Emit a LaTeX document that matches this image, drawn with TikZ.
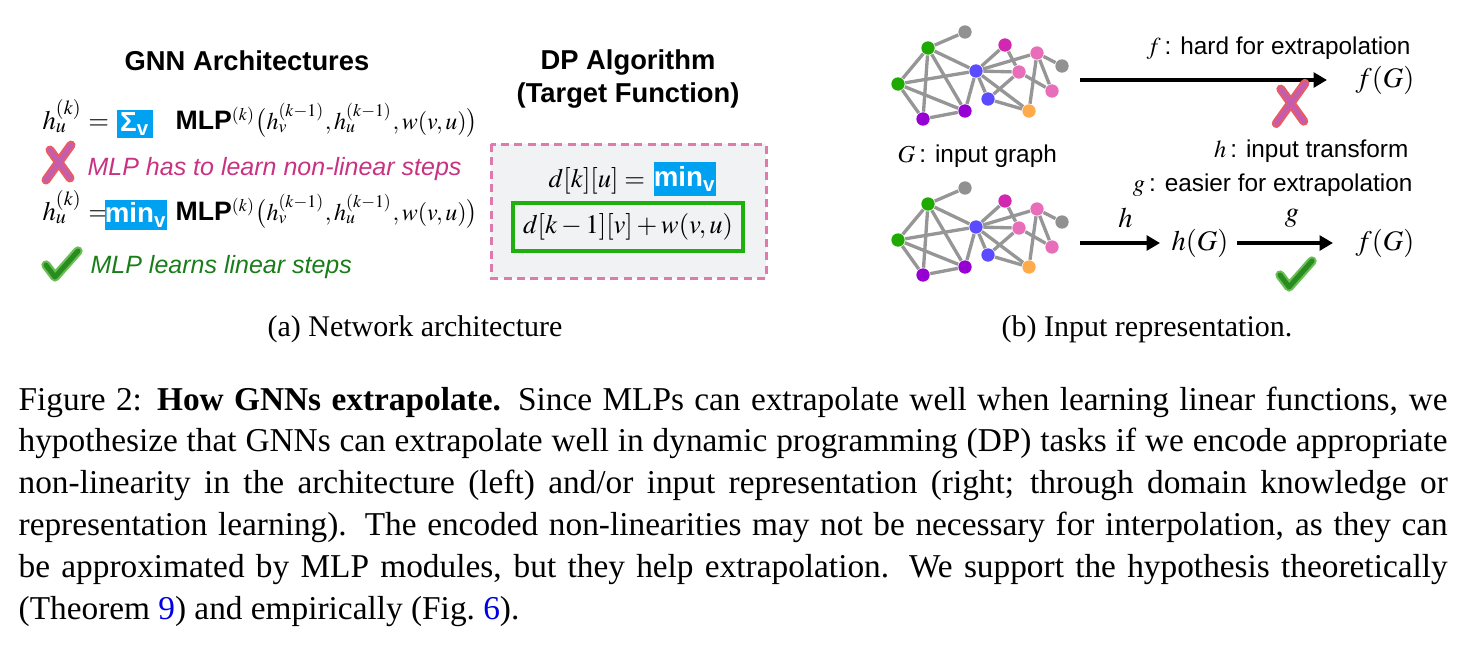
\documentclass[tikz,border=0pt]{standalone}
\usepackage{mathptmx}
\usepackage[no-math]{fontspec}
\setmainfont{Liberation Serif}
\setsansfont{Liberation Sans}
\usetikzlibrary{arrows.meta}

\definecolor{selblue}{RGB}{0,161,241}
\definecolor{badpink}{RGB}{200,50,130}
\definecolor{goodgreen}{RGB}{25,125,25}
\definecolor{dashpink}{RGB}{222,122,174}
\definecolor{boxgray}{RGB}{241,242,244}
\definecolor{boxgreen}{RGB}{31,175,15}
\definecolor{edgegray}{RGB}{150,150,150}
\definecolor{ngreen}{RGB}{30,170,0}
\definecolor{npurple}{RGB}{150,0,210}
\definecolor{nblue}{RGB}{90,75,255}
\definecolor{nmagenta}{RGB}{210,40,175}
\definecolor{npink}{RGB}{232,110,185}
\definecolor{norange}{RGB}{255,170,75}
\definecolor{ngray}{RGB}{145,145,145}
\definecolor{crossred}{RGB}{232,92,100}
\definecolor{crossmid}{RGB}{196,92,176}
\definecolor{tickout}{RGB}{105,190,85}
\definecolor{tickin}{RGB}{40,140,30}
\definecolor{linkblue}{RGB}{0,0,230}

\newcommand{\mlpname}{\textsf{\bfseries\fontsize{8}{9}\selectfont MLP}}

\tikzset{
  crossmk/.pic={
    \draw[line width=2.7pt, line cap=round, crossred] (13,-18) -- (-12,17) (-8,-13) -- (12,15);
    \draw[line width=1.4pt, line cap=round, crossmid] (13,-18) -- (-12,17) (-8,-13) -- (12,15);
  },
  tickmk/.pic={
    \draw[line width=2.8pt, line cap=round, line join=round, tickout] (-12,0) -- (-3,12) -- (20,-14);
    \draw[line width=1.5pt, line cap=round, line join=round, tickin] (-12,0) -- (-3,12) -- (20,-14);
  }
}

\begin{document}
\begin{tikzpicture}[x=0.3pt, y=-0.3pt,
    every node/.style={inner sep=0pt},
    head/.style={font=\fontsize{8.2}{9.9}\selectfont\sffamily\bfseries, align=center},
    eqn/.style={font=\fontsize{8}{9.6}\selectfont},
    mlpeq/.style={font=\fontsize{7.2}{8.8}\selectfont},
    note/.style={font=\fontsize{7.5}{9}\selectfont\sffamily\itshape},
    rsans/.style={font=\fontsize{7.3}{8.8}\selectfont\sffamily},
    rmath/.style={font=\fontsize{8.5}{10}\selectfont},
    selbox/.style={fill=selblue, text=white, font=\fontsize{8.3}{9.6}\selectfont\sffamily\bfseries},
    gnode/.style={circle, minimum size=4pt},
    gedge/.style={draw=edgegray, line width=1pt},
    bigarrow/.style={line width=1.3pt, -{Triangle[length=4pt,width=4.4pt]}},
    subcap/.style={font=\fontsize{9}{11}\selectfont}]
  \useasboundingbox (0,0) rectangle (1464,646);

  % (a) GNN architectures
  \node[head] (gnnhead) at (247,61) {GNN Architectures};
  \node[eqn, anchor=base west] (eqa) at (42,129) {$h_u^{(k)} =$};
  \node[selbox, minimum width=10.8pt, minimum height=8.4pt] (suma) at (135,124) {Σ\textsubscript{v}};
  \node[mlpeq, anchor=base west] (mlpa) at (175,129) {\mlpname$^{(k)}\big(h_v^{(k-1)}, h_u^{(k-1)}, w(v,u)\big)$};
  \pic at (58,163) {crossmk};
  \node[note, text=badpink, anchor=base west] (bada) at (87,175) {MLP has to learn non-linear steps};
  \node[eqn, anchor=base west] (eqb) at (42,220) {$h_u^{(k)} =$};
  \node[selbox, minimum width=18.6pt, minimum height=9pt] (minb) at (136,215) {min\textsubscript{v}};
  \node[mlpeq, anchor=base west] (mlpb) at (175,220) {\mlpname$^{(k)}\big(h_v^{(k-1)}, h_u^{(k-1)}, w(v,u)\big)$};
  \pic at (58,265) {tickmk};
  \node[note, text=goodgreen, anchor=base west] (goodb) at (90,273) {MLP learns linear steps};
  \node[subcap] (capa) at (415,329) {(a) Network architecture};

  % DP algorithm
  \node[head] (dphead) at (628,79) {DP Algorithm\\(Target Function)};
  \draw[dashpink, fill=boxgray, line width=0.9pt, dash pattern=on 2.4pt off 1.6pt] (491,144) rectangle (766,278);
  \node[eqn, anchor=base west] (dku) at (548,187) {$d[k][u] =$};
  \node[selbox, minimum width=18.3pt, minimum height=10pt] (mindp) at (685,179) {min\textsubscript{v}};
  \node[eqn, draw=boxgreen, line width=1.2pt, minimum width=69pt, minimum height=14.4pt] (step) at (628,227) {$d[k-1][v] + w(v,u)$};

  % (b) input representation
  \foreach \g/\dy in {ga/0, gb/156} {
    \foreach \n/\px/\py/\c in {gr1/965/32/ngray, gn1/928/48/ngreen, gn2/898/84/ngreen,
        pu1/923/119/npurple, pu2/965/111/npurple, bl1/976/71/nblue, mg/1005/45/nmagenta,
        pk1/1019/72/npink, pk2/1037/53/npink, gr2/1062/66/ngray, pk3/1052/91/npink,
        bl2/988/99/nblue, or/1029/111/norange}
      \node[gnode, fill=\c] (\g\n) at (\px,\py+\dy) {};
    \foreach \a/\b in {gr1/gn1, gn1/gn2, gn1/pu1, gn1/pu2, gn1/bl1, gn2/bl1, gn2/pu1, gn2/pu2,
        pu1/pu2, pu2/bl1, bl1/mg, bl1/pk1, bl1/pk2, bl1/bl2, bl1/or, mg/pk1, pk1/bl2,
        pk1/pk3, pk2/gr2, pk2/pk3, pk2/or, bl2/or}
      \draw[gedge] (\g\a) -- (\g\b);
  }
  \node[rsans, anchor=base west] (ginput) at (897,162) {$G$\,: input graph};
  \node[rsans, anchor=base east] (fhard) at (1411,54) {$f$\,: hard for extrapolation};
  \node[rsans, anchor=base east] (htrans) at (1409,157) {$h$\,: input transform};
  \node[rsans, anchor=base east] (geasy) at (1413,191) {$g$\,: easier for extrapolation};

  \coordinate (srcA) at (1080,80);
  \node[rmath] (fGa) at (1385,80) {$f(G)$};
  \draw[bigarrow, shorten >=8.4pt] (srcA) -- (fGa);
  \pic[scale=1.15] at (1290,104) {crossmk};

  \coordinate (srcB) at (1080,243);
  \node[rmath] (hG) at (1200,243) {$h(G)$};
  \node[rmath] (fGb) at (1385,243) {$f(G)$};
  \draw[bigarrow, shorten >=3.3pt] (srcB) -- node[rmath, above=4pt] {$h$} (hG);
  \draw[bigarrow, shorten <=2.4pt, shorten >=6.6pt] (hG) -- node[rmath, above=4pt] {$g$} (fGb);
  \pic at (1292,275) {tickmk};
  \node[subcap] (capb) at (1147,329) {(b) Input representation.};

  % caption
  \node[anchor=north west, text width=428.7pt, align=justify, font=\fontsize{10}{12.55}\selectfont] (caption) at (18,386)
    {\noindent\hyphenpenalty=10000 Figure 2: \textbf{How GNNs extrapolate.} Since MLPs can extrapolate well when learning linear functions, we\linebreak
     hypothesize that GNNs can extrapolate well in dynamic programming (DP) tasks if we encode appropriate\linebreak
     non-linearity in the architecture (left) and/or input representation (right; through domain knowledge or\linebreak
     representation learning). The encoded non-linearities may not be necessary for interpolation, as they can\linebreak
     be approximated by MLP modules, but they help extrapolation. We support the hypothesis theoretically\linebreak
     (Theorem \textcolor{linkblue}{9}) and empirically (Fig.~\textcolor{linkblue}{6}).};
\end{tikzpicture}
\end{document}
